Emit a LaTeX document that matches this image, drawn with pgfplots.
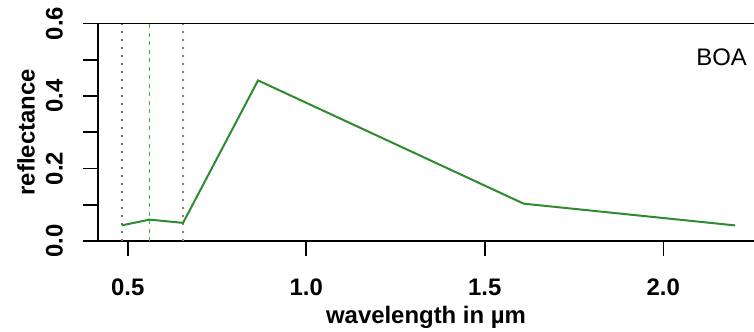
\documentclass[border=0pt]{standalone}
\usepackage{fontspec}
\setmainfont{Liberation Sans}
\usepackage{pgfplots}
\pgfplotsset{compat=1.18}
\definecolor{lgreen}{RGB}{46,139,46}
\definecolor{vblue}{RGB}{100,100,180}
\definecolor{vgreen}{RGB}{40,190,40}
\definecolor{vred}{RGB}{185,110,110}
\begin{document}
\begin{tikzpicture}
\begin{axis}[
  at={(0,0)}, anchor=south west,
  scale only axis, width=656bp, height=217.5bp,
  xmin=0.4168, xmax=2.254, ymin=0, ymax=0.6,
  axis x line*=box, axis y line*=left,
  xtick={0.5,1,1.5,2}, xticklabels={0.5,1.0,1.5,2.0},
  ytick={0,0.1,0.2,0.3,0.4,0.5,0.6},
  yticklabels={0.0,,0.2,,0.4,,0.6},
  tick align=outside, xtick pos=bottom, ytick pos=left,
  major tick length=15bp,
  tick style={line width=1.6bp, black},
  axis line style={line width=1.6bp, black},
  /pgf/number format/assume math mode=true,
  ticklabel style={font=\bfseries\fontsize{24}{28}\selectfont, inner sep=0pt},
  xticklabel style={anchor=north, yshift=-23bp},
  yticklabel style={rotate=90, anchor=south, yshift=20bp},
  xlabel={wavelength in µm},
  ylabel={reflectance},
  every axis x label/.style={at={([yshift=-76bp]axis description cs:0.5,0)}, anchor=center, inner sep=0pt, font=\bfseries\fontsize{24}{28}\selectfont},
  every axis y label/.style={at={([xshift=-72bp]axis description cs:0,0.5)}, rotate=90, anchor=center, inner sep=0pt, font=\bfseries\fontsize{24}{28}\selectfont},
  clip=false,
]
\addplot[vblue, line width=1.8bp, dash pattern=on 2bp off 6bp] coordinates {(0.483,0) (0.483,0.6)};
\addplot[vgreen, line width=1.3bp, dash pattern=on 4bp off 4.5bp] coordinates {(0.561,0) (0.561,0.6)};
\addplot[vred, line width=1.8bp, dash pattern=on 2bp off 6bp] coordinates {(0.655,0) (0.655,0.6)};
\addplot[lgreen, line width=2bp] coordinates {
  (0.483,0.043) (0.561,0.059) (0.655,0.050) (0.865,0.443) (1.609,0.103) (2.201,0.043)
};
\node[anchor=east, inner sep=0pt, font=\fontsize{24}{28}\selectfont] at ([xshift=-7bp, yshift=-34bp]rel axis cs:1,1) {BOA};
\end{axis}
\pgfresetboundingbox
\path[use as bounding box] (-98bp,-91bp) rectangle (656bp,241bp);
\end{tikzpicture}
\end{document}
